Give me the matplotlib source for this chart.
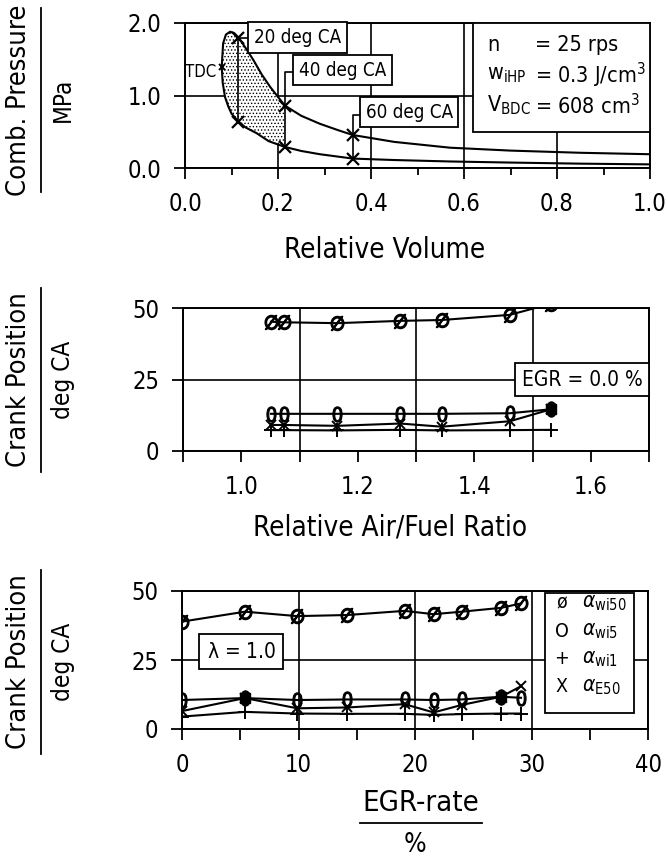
import matplotlib.pyplot as plt
from matplotlib.lines import Line2D

plt.rcParams['font.family'] = ['DejaVu Sans']
plt.rcParams['font.stretch'] = 'condensed'
plt.rcParams['mathtext.fontset'] = 'dejavusans'
plt.rcParams['hatch.linewidth'] = 0.6

# p-V loop: expansion branch (from TDC) and compression branch (towards TDC)
v_exp = [0.079, 0.082, 0.088, 0.097, 0.106, 0.115, 0.13, 0.147, 0.165, 0.183,
         0.20, 0.215, 0.25, 0.29, 0.33, 0.361, 0.45, 0.57, 0.70, 0.85, 1.0]
p_exp = [1.40, 1.72, 1.84, 1.88, 1.86, 1.80, 1.66, 1.49, 1.29, 1.12,
         0.98, 0.86, 0.72, 0.61, 0.52, 0.455, 0.36, 0.28, 0.24, 0.21, 0.19]
v_comp = [1.0, 0.85, 0.70, 0.57, 0.45, 0.361, 0.29, 0.25, 0.215, 0.18,
          0.154, 0.13, 0.115, 0.10, 0.093, 0.086, 0.081, 0.079]
p_comp = [0.05, 0.06, 0.075, 0.09, 0.11, 0.13, 0.19, 0.235, 0.29, 0.37,
          0.48, 0.56, 0.64, 0.75, 0.85, 0.98, 1.18, 1.40]

ca_labels = ['20 deg CA', '40 deg CA', '60 deg CA']
ca_v = [0.115, 0.215, 0.361]
ca_p_exp = [1.80, 0.86, 0.455]
ca_p_comp = [0.64, 0.29, 0.13]

# crank positions vs. relative air/fuel ratio (EGR = 0 %)
lam = [1.051, 1.073, 1.165, 1.273, 1.344, 1.461, 1.532]
wi50_lam = [45.2, 45.0, 44.7, 45.5, 45.8, 47.6, 51.5]
wi5_lam = [13.0, 13.0, 13.0, 13.0, 13.0, 13.2, 14.6]
wi1_lam = [7.3, 7.3, 7.2, 7.4, 7.2, 7.3, 7.4]
e50_lam = [9.1, 9.1, 8.8, 9.6, 8.5, 10.4, 14.6]

# crank positions vs. EGR rate (lambda = 1.0)
egr = [0.0, 5.4, 9.9, 14.2, 19.1, 21.6, 24.0, 27.4, 29.1]
wi50_egr = [38.9, 42.5, 40.9, 41.3, 42.8, 41.6, 42.5, 43.9, 45.5]
wi5_egr = [10.5, 11.2, 10.5, 10.7, 10.7, 10.5, 10.7, 11.7, 11.3]
wi1_egr = [4.5, 6.2, 5.6, 5.5, 5.5, 5.1, 5.4, 5.6, 5.6]
e50_egr = [6.5, 11.2, 7.5, 7.8, 9.0, 6.0, 8.7, 11.7, 15.5]

W, H = 668, 861
fig = plt.figure(figsize=(W / 100, H / 100), dpi=100)


def px_axes(left, top, right, bottom):
    return fig.add_axes([left / W, 1 - bottom / H, (right - left) / W, (bottom - top) / H])


def frac_ylabel(top_txt, bottom_txt, yc):
    fig.text(19 / W, 1 - yc / H, top_txt, rotation=90, ha='center', va='center', fontsize=19.5)
    fig.add_artist(Line2D([41 / W, 41 / W], [1 - (yc - 92) / H, 1 - (yc + 92) / H],
                          color='k', lw=1.3, transform=fig.transFigure))
    fig.text(63 / W, 1 - yc / H, bottom_txt, rotation=90, ha='center', va='center', fontsize=17.5)


def style(ax):
    for s in ax.spines.values():
        s.set_linewidth(1.4)
    ax.tick_params(which='both', direction='out', width=1.3, labelsize=17, pad=9)
    ax.tick_params(which='major', length=8)
    ax.tick_params(which='minor', length=8)


line_kw = dict(color='k', lw=1.5)
box_kw = dict(boxstyle='square,pad=0.3', fc='white', ec='k', lw=1.3)

# ---- combustion pressure vs. relative volume ----
ax1 = px_axes(185, 23, 650, 168)
style(ax1)
ax1.set_xlim(0, 1.0)
ax1.set_ylim(0, 2.0)
ax1.set_xticks([0.0, 0.2, 0.4, 0.6, 0.8, 1.0])
ax1.set_xticks([0.1, 0.3, 0.5, 0.7, 0.9], minor=True)
ax1.tick_params(axis='x', which='minor', length=5)
ax1.set_yticks([0.0, 1.0, 2.0])
ax1.xaxis.set_major_formatter('{x:.1f}')
ax1.yaxis.set_major_formatter('{x:.1f}')
ax1.grid(True, which='major', color='k', lw=1.2)

poly_v = [v for v in v_exp if v <= 0.215] + [v for v in v_comp if v <= 0.215]
poly_p = [p for v, p in zip(v_exp, p_exp) if v <= 0.215] + \
         [p for v, p in zip(v_comp, p_comp) if v <= 0.215]
ax1.fill(poly_v, poly_p, facecolor='white', edgecolor='k', lw=0, hatch='.....', zorder=2)
ax1.plot(v_exp, p_exp, zorder=3, **line_kw)
ax1.plot(v_comp, p_comp, zorder=3, **line_kw)
ax1.plot(ca_v + ca_v, ca_p_exp + ca_p_comp, 'x', color='k', ms=8, mew=1.6, zorder=4)
ax1.plot(v_exp[0], p_exp[0], 'x', color='k', ms=5, mew=1.4, zorder=4)
ax1.text(0.033, 1.33, 'TDC', ha='center', va='center', fontsize=12)

# leader lines from each crank-angle pair to its label box
leaders = [(1.80, 0.138), (1.33, 0.237), (0.73, 0.378)]
centers = [(0.242, 1.80), (0.339, 1.35), (0.482, 0.77)]
for v, pl, (pt, xb), (cx, cy), lab in zip(ca_v, ca_p_comp, leaders, centers, ca_labels):
    ax1.plot([v, v, xb], [pl, pt, pt], color='k', lw=1.2, zorder=3)
    ax1.text(cx, cy, lab, ha='center', va='center', fontsize=13.5, bbox=box_kw, zorder=5)

info_names = ['n', r'w$_{\mathregular{iHP}}$', r'V$_{\mathregular{BDC}}$']
info_vals = ['= 25 rps', r'= 0.3 J/cm$^{\mathregular{3}}$', r'= 608 cm$^{\mathregular{3}}$']
ax1.add_patch(plt.Rectangle((0.62, 0.5), 0.38, 1.5, fc='white', ec='k', lw=1.3, zorder=5))
for i, (nm, vl) in enumerate(zip(info_names, info_vals)):
    y = 1.70 - 0.42 * i
    ax1.text(0.65, y, nm, ha='left', va='center', fontsize=15.5, zorder=6)
    ax1.text(0.753, y, vl, ha='left', va='center', fontsize=15.5, zorder=6)

fig.text(385 / W, 1 - 250 / H, 'Relative Volume', ha='center', va='center', fontsize=20)
frac_ylabel('Comb. Pressure', 'MPa', 100)

# ---- crank position vs. relative air/fuel ratio ----
ax2 = px_axes(183, 308, 649, 451)
style(ax2)
ax2.set_xlim(0.9, 1.7)
ax2.set_ylim(0, 50)
ax2.set_xticks([1.0, 1.2, 1.4, 1.6])
ax2.set_xticks([0.9, 1.1, 1.3, 1.5, 1.7], minor=True)
ax2.set_yticks([0, 25, 50])
ax2.xaxis.set_major_formatter('{x:.1f}')
ax2.grid(True, which='minor', axis='x', color='k', lw=1.2)
ax2.grid(True, which='major', axis='y', color='k', lw=1.2)

ax2.plot(lam, wi50_lam, marker=r'$\emptyset$', ms=10, mew=1.2, **line_kw)
ax2.plot(lam, wi5_lam, marker='$0$', ms=11, mew=0.8, **line_kw)
ax2.plot(lam, wi1_lam, marker='+', ms=10, mew=1.4, **line_kw)
ax2.plot(lam, e50_lam, marker='x', ms=7, mew=1.4, **line_kw)
same = [(x, a) for x, a, b in zip(lam, wi5_lam, e50_lam) if abs(a - b) < 0.6]
ax2.plot([s[0] for s in same], [s[1] for s in same], 's', color='k', ms=7)
ax2.text(1.585, 25, 'EGR = 0.0 %', ha='center', va='center', fontsize=15,
         bbox=dict(boxstyle='square,pad=0.3', fc='white', ec='k', lw=1.3), zorder=5)

fig.text(390 / W, 1 - 527 / H, 'Relative Air/Fuel Ratio', ha='center', va='center', fontsize=20)
frac_ylabel('Crank Position', 'deg CA', 380)

# ---- crank position vs. EGR rate ----
ax3 = px_axes(182, 591, 648, 729)
style(ax3)
ax3.set_xlim(0, 40)
ax3.set_ylim(0, 50)
ax3.set_xticks([0, 10, 20, 30, 40])
ax3.set_xticks([5, 15, 25, 35], minor=True)
ax3.set_yticks([0, 25, 50])
ax3.grid(True, which='major', color='k', lw=1.2)

ax3.plot(egr, wi50_egr, marker=r'$\emptyset$', ms=10, mew=1.2, **line_kw)
ax3.plot(egr, wi5_egr, marker='$0$', ms=11, mew=0.8, **line_kw)
ax3.plot(egr, wi1_egr, marker='+', ms=10, mew=1.4, **line_kw)
ax3.plot(egr, e50_egr, marker='x', ms=7, mew=1.4, **line_kw)
same = [(x, a) for x, a, b in zip(egr, wi5_egr, e50_egr) if abs(a - b) < 0.6]
ax3.plot([s[0] for s in same], [s[1] for s in same], 's', color='k', ms=7)
ax3.text(5.1, 28, r'$\mathregular{\lambda}$ = 1.0', ha='center', va='center', fontsize=15,
         bbox=dict(boxstyle='square,pad=0.35', fc='white', ec='k', lw=1.3), zorder=5)

leg_sym = ['ø', 'O', '+', 'X']
leg_txt = [r'$\alpha_{\mathregular{wi50}}$', r'$\alpha_{\mathregular{wi5}}$',
           r'$\alpha_{\mathregular{wi1}}$', r'$\alpha_{\mathregular{E50}}$']
ax3.add_patch(plt.Rectangle((31.2, 5.8), 7.6, 43.5, fc='white', ec='k', lw=1.3, zorder=5))
for i, (s, t) in enumerate(zip(leg_sym, leg_txt)):
    y = 45.6 - 10.1 * i
    ax3.text(32.6, y, s, ha='center', va='center', fontsize=14, zorder=6)
    ax3.text(34.3, y, t, ha='left', va='center', fontsize=15, zorder=6)

fig.text(421 / W, 1 - 803 / H, 'EGR-rate', ha='center', va='center', fontsize=21)
fig.add_artist(Line2D([360 / W, 482 / W], [1 - 823 / H, 1 - 823 / H], color='k', lw=1.3,
                      transform=fig.transFigure))
fig.text(415 / W, 1 - 845 / H, '%', ha='center', va='center', fontsize=19)
frac_ylabel('Crank Position', 'deg CA', 662)

fig.savefig('out.png', dpi=100)
